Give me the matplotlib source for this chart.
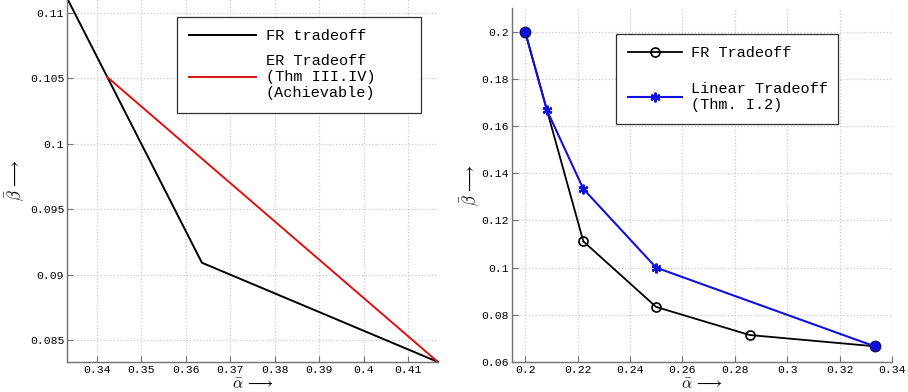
import numpy as np
import matplotlib.pyplot as plt

plt.rcParams['mathtext.fontset'] = 'cm'
mono = 'Liberation Mono'

# left panel: FR vs ER tradeoff
fr_alpha = [1/3, 4/11, 5/12]
fr_beta = [1/9, 1/11, 1/12]
er_alpha = [0.3423, 5/12]
er_beta = [0.1051, 1/12]
left_xticks = [0.34, 0.35, 0.36, 0.37, 0.38, 0.39, 0.40, 0.41]
left_yticks = [0.085, 0.09, 0.095, 0.1, 0.105, 0.11]

# right panel: FR vs linear tradeoff
fr2_alpha = [1/5, 5/24, 2/9, 1/4, 2/7, 1/3]
fr2_beta = [1/5, 1/6, 1/9, 1/12, 1/14, 1/15]
lin_alpha = [1/5, 5/24, 2/9, 1/4, 1/3]
lin_beta = [1/5, 1/6, 2/15, 1/10, 1/15]
end_alpha = [1/5, 1/3]
end_beta = [1/5, 1/15]
right_xticks = [0.2, 0.22, 0.24, 0.26, 0.28, 0.3, 0.32, 0.34]
right_yticks = [0.06, 0.08, 0.1, 0.12, 0.14, 0.16, 0.18, 0.2]

fig = plt.figure(figsize=(9.08, 3.92), dpi=100)
ax1 = fig.add_axes([67/908, 30/392, 371/908, 364/392])
ax2 = fig.add_axes([512/908, 30/392, 380/908, 354/392])


def style(ax, xt, yt, w, h, ylab_off):
    for s in ['top', 'right']:
        ax.spines[s].set_visible(False)
    for s in ['left', 'bottom']:
        ax.spines[s].set_color('#707070')
        ax.spines[s].set_linewidth(1.0)
    ax.set_xticks(xt)
    ax.set_yticks(yt)
    ax.set_xticklabels(['%g' % v for v in xt], family=mono, fontsize=8.2)
    ax.set_yticklabels(['%g' % v for v in yt], family=mono, fontsize=8.2)
    ax.tick_params(direction='in', length=4, color='#707070', pad=2)
    ax.grid(True, linestyle=':', color='#c8c8c8', linewidth=0.9)
    ax.set_axisbelow(True)
    ax.set_xlabel(r'$\bar{\alpha}\,\longrightarrow$', fontsize=11.5)
    ax.set_ylabel(r'$\bar{\beta}\,\longrightarrow$', fontsize=12)
    ax.xaxis.set_label_coords(0.5, -14.5 / h)
    ax.yaxis.set_label_coords(-ylab_off / w, 0.5)


ax1.plot(fr_alpha, fr_beta, color='black', lw=1.4, label='FR tradeoff', clip_on=False)
ax1.plot(er_alpha, er_beta, color='#e01010', lw=1.4,
         label='ER Tradeoff\n(Thm III.IV)\n(Achievable)', clip_on=False)
ax1.set_xlim(1/3, 5/12)
ax1.set_ylim(1/12, 1/9)
style(ax1, left_xticks, left_yticks, 371, 364, 40)
leg1 = ax1.legend(loc='upper left', bbox_to_anchor=(110/371, 1 - 115/364, 244/371, 96/364),
                  mode='expand', prop={'family': mono, 'size': 11}, handlelength=4.4,
                  fancybox=False, edgecolor='#303030', framealpha=1, borderpad=0.8,
                  labelspacing=0.7, handletextpad=0.6, borderaxespad=0)
leg1.get_frame().set_linewidth(0.9)

ax2.plot(fr2_alpha, fr2_beta, color='black', lw=1.3, marker='o', ms=6.5,
         mfc='none', mec='black', mew=1.2, markevery=[0, 2, 3, 4, 5],
         label='FR Tradeoff', clip_on=False)
ax2.plot(lin_alpha, lin_beta, color='#1010e0', lw=1.5, marker=(6, 2, 0), ms=7,
         mec='#1010e0', mew=1.6, label='Linear Tradeoff\n(Thm. I.2)', clip_on=False)
ax2.plot(end_alpha, end_beta, linestyle='none', marker='o', ms=7.5, mfc='#1010e0',
         mec='#101060', mew=1.0, clip_on=False)
ax2.set_xlim(0.195, 0.34)
ax2.set_ylim(0.06, 0.21)
style(ax2, right_xticks, right_yticks, 380, 354, 30)
leg2 = ax2.legend(loc='upper left', bbox_to_anchor=(104/380, 1 - 122/354, 222/380, 96/354),
                  mode='expand', prop={'family': mono, 'size': 11}, handlelength=3.5,
                  fancybox=False, edgecolor='#303030', framealpha=1, borderpad=0.8,
                  labelspacing=1.4, handletextpad=0.6, borderaxespad=0)
leg2.get_frame().set_linewidth(0.9)

fig.savefig('out.png', dpi=100)
